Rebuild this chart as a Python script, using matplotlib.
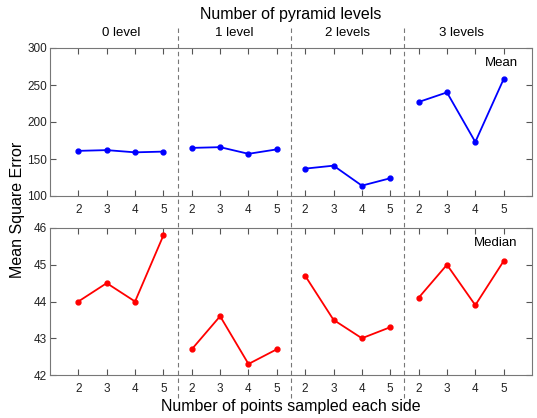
import numpy as np
import matplotlib.pyplot as plt

plt.rcParams['font.family'] = ['Liberation Sans', 'DejaVu Sans']

# Pyramid levels and number of sampled points per side
levels = ['0 level', '1 level', '2 levels', '3 levels']
points = [2, 3, 4, 5]

# Mean square error, mean over the test set (one row per pyramid level)
mse_mean = [
    [161, 162, 159, 160],
    [165, 166, 157, 163],
    [137, 141, 114, 124],
    [227, 240, 173, 258],
]
# Mean square error, median over the test set
mse_median = [
    [44.0, 44.5, 44.0, 45.8],
    [42.7, 43.6, 42.3, 42.7],
    [44.7, 43.5, 43.0, 43.3],
    [44.1, 45.0, 43.9, 45.1],
]

n = len(points)
fig = plt.figure(figsize=(5.37, 4.18), dpi=100)
ax1 = fig.add_axes([50/537, 1 - 196/418, 482/537, 148/418])
ax2 = fig.add_axes([50/537, 1 - 375/418, 482/537, 147/418])

xticks = np.arange(len(levels) * n)
xlabels = [str(p) for _ in levels for p in points]

for ax, data, color, ylim, yticks, tag in [
    (ax1, mse_mean, 'blue', (100, 300), np.arange(100, 301, 50), 'Mean'),
    (ax2, mse_median, 'red', (42, 46), np.arange(42, 47, 1), 'Median'),
]:
    for i, row in enumerate(data):
        x = i * n + np.arange(n)
        ax.plot(x, row, '-o', color=color, lw=1.3, ms=3.5)
    ax.set_xlim(-1, len(levels) * n)
    ax.set_ylim(*ylim)
    ax.set_yticks(yticks)
    ax.set_xticks(xticks)
    ax.set_xticklabels(xlabels)
    ax.tick_params(direction='in', top=True, right=True, labelsize=8.5,
                   color='#555555', labelcolor='#222222', length=4)
    ax.tick_params(axis='x', pad=6)
    ax.tick_params(axis='y', pad=2)
    for s in ax.spines.values():
        s.set_color('#777777')
    ax.text(0.97, 0.9, tag, transform=ax.transAxes, ha='right', va='center',
            fontsize=9.5)

# dashed separators between pyramid levels, spanning both panels
for i in range(1, len(levels)):
    xs = i * n - 0.5
    xf = fig.transFigure.inverted().transform(ax1.transData.transform((xs, 0)))[0]
    fig.add_artist(plt.Line2D([xf, xf], [1 - 398/418, 1 - 27/418],
                              transform=fig.transFigure, color='#777777',
                              ls=(0, (4, 3)), lw=0.8))

for i, lab in enumerate(levels):
    xc = i * n + (n - 1) / 2
    xf = fig.transFigure.inverted().transform(ax1.transData.transform((xc, 0)))[0]
    fig.text(xf, 1 - 33/418, lab, ha='center', va='center', fontsize=9.5)

fig.text(291/537, 1 - 14/418, 'Number of pyramid levels', ha='center',
         va='center', fontsize=11.5)
fig.text(291/537, 1 - 406/418, 'Number of points sampled each side',
         ha='center', va='center', fontsize=11.5)
fig.text(18/537, 1 - 210/418, 'Mean Square Error', ha='center', va='center',
         rotation=90, fontsize=11.5)

fig.savefig('out.png', dpi=100)
